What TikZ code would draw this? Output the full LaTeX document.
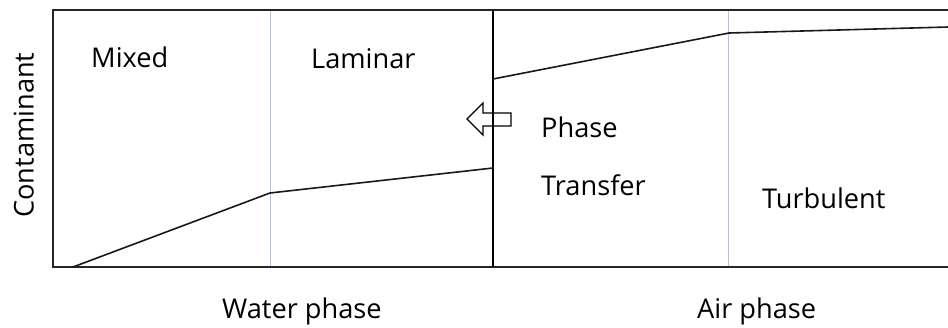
\documentclass[tikz,border=0pt]{standalone}
\usepackage{fontspec}
\setmainfont{Open Sans}
\begin{document}
\begin{tikzpicture}[x=1pt,y=-1pt,
  lbl/.style={inner sep=0pt,anchor=base west,font=\fontsize{27.2}{31}\selectfont},
  frame/.style={line width=1.9pt,black!85},
  curve/.style={line width=1.6pt,black!90,line join=round},
  zone/.style={line width=0.7pt,color={rgb,255:red,185;green,195;blue,212}}]
\useasboundingbox (0,0) rectangle (948,327);
\fill[white] (0,0) rectangle (948,327);
% zone separators
\draw[zone] (270,10) -- (270,267);
\draw[zone] (728,10) -- (728,267);
% axes frame
\draw[frame] (948,10) -- (53,10) -- (53,267) -- (948,267);
% interface
\draw[line width=1.4pt] (493,10) -- (493,267);
% concentration profiles
\draw[curve] (73,267) -- (270,193) -- (493,168);
\draw[curve] (493,79) -- (729,33) -- (948,27);
% transfer direction arrow
\draw[line width=1.4pt,line join=miter]
  (467,119) -- (483,103) -- (483,113) -- (511,113) -- (511,126)
  -- (483,126) -- (483,135) -- cycle;
% labels
\node[lbl] (mixed) at (91,67.5) {Mixed};
\node[lbl] (laminar) at (311,68) {Laminar};
\node[lbl] (phase) at (541,137) {Phase};
\node[lbl] (transfer) at (541,195) {Transfer};
\node[lbl] (turb) at (762,208) {Turbulent};
\node[lbl] (water) at (222,318) {Water phase};
\node[lbl] (air) at (697,318) {Air phase};
\node[lbl,rotate=90] (cont) at (33.5,218) {Contaminant};
\end{tikzpicture}
\end{document}
